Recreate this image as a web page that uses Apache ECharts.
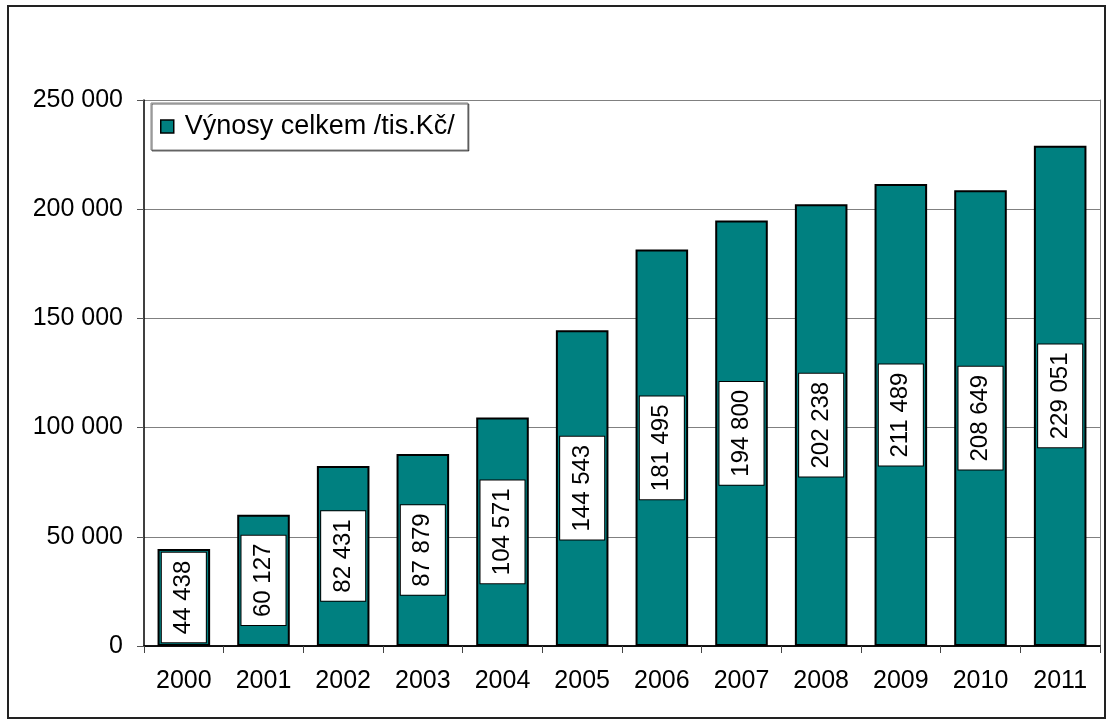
<!DOCTYPE html>
<html>
<head>
<meta charset="utf-8">
<script src="https://cdn.jsdelivr.net/npm/echarts@6/dist/echarts.min.js"></script>
<style>
  html, body { margin: 0; padding: 0; background: #fff; }
  #chart { width: 1108px; height: 722px; }
</style>
</head>
<body>
<div id="chart"></div>
<script>
// data
const years = ['2000', '2001', '2002', '2003', '2004', '2005', '2006', '2007', '2008', '2009', '2010', '2011'];
const vynosy = [44438, 60127, 82431, 87879, 104571, 144543, 181495, 194800, 202238, 211489, 208649, 229051];
const seriesName = 'Výnosy celkem /tis.Kč/';

const FONT = 'Liberation Sans, Arial, sans-serif';

// 250000 -> "250 000"
function spaced(v) {
  return String(v).replace(/\B(?=(\d{3})+(?!\d))/g, ' ');
}

const myChart = echarts.init(document.getElementById('chart'));

const option = {
  animation: false,
  backgroundColor: '#fff',
  textStyle: { fontFamily: FONT },
  graphic: [
    { // outer frame
      type: 'rect',
      shape: { x: 8, y: 6, width: 1097, height: 712 },
      style: { fill: null, stroke: '#222', lineWidth: 2 },
      silent: true
    }
  ],
  grid: { left: 144, top: 100, right: 8, bottom: 76 },
  legend: {
    left: 151,
    top: 103,
    orient: 'horizontal',
    padding: [10, 13, 10, 9],
    backgroundColor: '#fff',
    borderColor: '#808080',
    borderWidth: 1,
    shadowColor: 'rgba(0,0,0,0.6)',
    shadowOffsetX: 1,
    shadowOffsetY: 1,
    itemWidth: 13,
    itemHeight: 13,
    icon: 'rect',
    itemStyle: { borderColor: '#000', borderWidth: 1.5 },
    textStyle: { fontSize: 27, color: '#000', fontFamily: FONT, padding: [0, 0, 0, 6] },
    data: [seriesName]
  },
  xAxis: [
    {
      type: 'category',
      data: years,
      axisLine: { lineStyle: { color: '#222', width: 1.5 } },
      axisTick: { show: true, length: 7, lineStyle: { color: '#444' } },
      axisLabel: { fontSize: 25, color: '#000', margin: 23, fontFamily: FONT }
    },
    { // top edge of the plot
      type: 'category',
      position: 'top',
      data: years,
      axisLine: { lineStyle: { color: '#000', width: 1.5 } },
      axisTick: { show: false },
      axisLabel: { show: false }
    }
  ],
  yAxis: [
    {
      type: 'value',
      min: 0,
      max: 250000,
      interval: 50000,
      axisLine: { show: true, lineStyle: { color: '#000', width: 1.5 } },
      axisTick: { show: true, length: 7, lineStyle: { color: '#555' } },
      axisLabel: { fontSize: 25, color: '#000', margin: 21, fontFamily: FONT, formatter: spaced },
      splitLine: { show: true, lineStyle: { color: '#808080', width: 1 } }
    },
    { // right edge of the plot
      type: 'value',
      position: 'right',
      min: 0,
      max: 250000,
      interval: 50000,
      axisLine: { show: true, lineStyle: { color: '#808080', width: 1 } },
      axisTick: { show: false },
      axisLabel: { show: false },
      splitLine: { show: false }
    }
  ],
  series: [
    {
      name: seriesName,
      type: 'bar',
      data: vynosy,
      barWidth: '66%',
      itemStyle: { color: '#008080', borderColor: '#000', borderWidth: 2 },
      label: {
        show: true,
        position: 'inside',
        rotate: 90,
        fontSize: 24,
        color: '#000',
        fontFamily: FONT,
        backgroundColor: '#fff',
        borderColor: '#000',
        borderWidth: 1,
        padding: [10, 8, 10, 8],
        formatter: p => spaced(p.value)
      }
    }
  ]
};

myChart.setOption(option);
</script>
</body>
</html>
